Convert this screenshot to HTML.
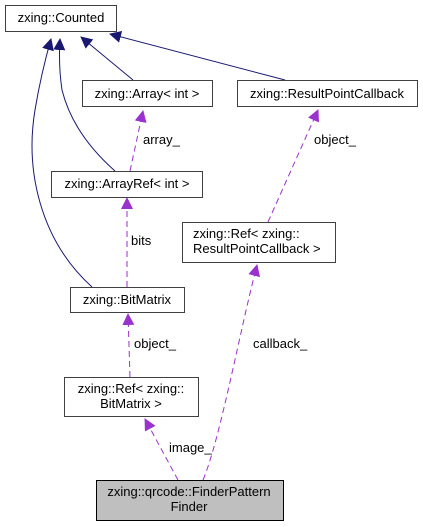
<!DOCTYPE html>
<html><head><meta charset="utf-8"><style>
html,body{margin:0;padding:0;background:#fff;width:423px;height:527px;overflow:hidden}
text{font-family:"Liberation Sans",Arial,sans-serif;font-size:13px;fill:#000}
</style></head><body>
<svg width="423" height="527" viewBox="0 0 423 527" xmlns="http://www.w3.org/2000/svg">
<defs>
<marker id="ab" markerWidth="12" markerHeight="12" refX="11" refY="6" orient="auto" markerUnits="userSpaceOnUse"><path d="M0,0 L12,6 L0,12 z" fill="#191970"/></marker>
<marker id="ap" markerWidth="12" markerHeight="12" refX="11" refY="6" orient="auto" markerUnits="userSpaceOnUse"><path d="M0,0 L12,6 L0,12 z" fill="#9a32cd"/></marker>
</defs>
<g fill="none" stroke="#191970" stroke-width="1">
<path d="M92,287 C40,240 25,170 35,110 C40,80 45,60 51,39" marker-end="url(#ab)"/>
<path d="M115,171 C80,140 67,110 62,90 C59,70 59,55 60,39" marker-end="url(#ab)"/>
<path d="M133,80 L81,37" marker-end="url(#ab)"/>
<path d="M285,80 L110,34" marker-end="url(#ab)"/>
</g>
<g fill="none" stroke="#9a32cd" stroke-width="1" stroke-dasharray="6,4">
<path d="M130,171 L143,111" marker-end="url(#ap)"/>
<path d="M268,222 L318,110" marker-end="url(#ap)"/>
<path d="M127,287 L127,198" marker-end="url(#ap)"/>
<path d="M130,377 L128,314" marker-end="url(#ap)"/>
<path d="M178,480 L145,419" marker-end="url(#ap)"/>
<path d="M203,480 C220,440 240,330 257,265" marker-end="url(#ap)"/>
</g>
<g stroke="#404040" stroke-width="1" fill="#fff">
<rect x="5.5" y="5.5" width="111" height="26"/>
<rect x="82.5" y="80.5" width="130" height="26"/>
<rect x="237.5" y="80.5" width="180" height="26"/>
<rect x="51.5" y="171.5" width="151" height="26"/>
<rect x="182.5" y="222.5" width="153" height="40"/>
<rect x="70.5" y="287.5" width="114" height="25"/>
<rect x="64.5" y="377.5" width="134" height="39"/>
<rect x="96.5" y="480.5" width="187" height="40" fill="#bfbfbf" stroke="#000"/>
</g>
<text x="61" y="22" text-anchor="middle">zxing::Counted</text>
<text x="147" y="98" text-anchor="middle">zxing::Array&lt; int &gt;</text>
<text x="327" y="98" text-anchor="middle">zxing::ResultPointCallback</text>
<text x="127" y="188" text-anchor="middle">zxing::ArrayRef&lt; int &gt;</text>
<text x="193" y="238">zxing::Ref&lt; zxing::</text>
<text x="193" y="253">ResultPointCallback &gt;</text>
<text x="127" y="304" text-anchor="middle">zxing::BitMatrix</text>
<text x="131" y="393" text-anchor="middle">zxing::Ref&lt; zxing::</text>
<text x="131" y="408" text-anchor="middle">BitMatrix &gt;</text>
<text x="189" y="496" text-anchor="middle">zxing::qrcode::FinderPattern</text>
<text x="189" y="511" text-anchor="middle">Finder</text>
<text x="143" y="144">array_</text>
<text x="314" y="144">object_</text>
<text x="131" y="245">bits</text>
<text x="134" y="348">object_</text>
<text x="169" y="452">image_</text>
<text x="253" y="348">callback_</text>
</svg>
</body></html>
